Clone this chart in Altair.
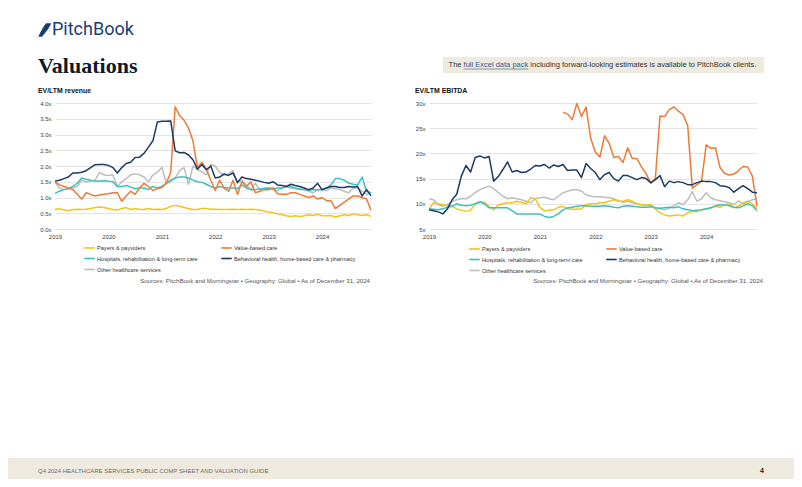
import altair as alt
import pandas as pd

YEARS = [2019, 2020, 2021, 2022, 2023, 2024]
MONTHS = [f"{y}-{m:02d}" for y in YEARS for m in range(1, 13)]

SERIES = [
    "Payers & payviders",
    "Value-based care",
    "Hospitals, rehabilitation & long-term care",
    "Behavioral health, home-based care & pharmacy",
    "Other healthcare services",
]
COLORS = ["#F5C319", "#EE7B35", "#3EC0C1", "#1A3A64", "#BDBDBD"]
# legend is filled column by column: this order gives rows
# (Payers | Value-based), (Hospitals | Behavioral), (Other)
LEGEND_ORDER = [0, 2, 4, 1, 3]
DRAW_ORDER = [4, 0, 2, 1, 3]

# ---- EV/LTM revenue (x) ----
REV_PAYERS = [0.62, 0.65, 0.60, 0.58, 0.62, 0.63, 0.62, 0.63, 0.65, 0.68, 0.70, 0.68,
              0.65, 0.62, 0.60, 0.65, 0.68, 0.62, 0.65, 0.62, 0.62, 0.65, 0.62, 0.63,
              0.62, 0.65, 0.72, 0.75, 0.72, 0.68, 0.65, 0.62, 0.62, 0.65, 0.65, 0.63,
              0.63, 0.62, 0.62, 0.62, 0.63, 0.62, 0.63, 0.62, 0.63, 0.62, 0.60, 0.57,
              0.54, 0.52, 0.48, 0.45, 0.42, 0.40, 0.42, 0.40, 0.42, 0.45, 0.43, 0.47,
              0.42, 0.42, 0.43, 0.38, 0.42, 0.45, 0.43, 0.48, 0.45, 0.43, 0.45, 0.40]
REV_VALUE = [1.50, 1.40, 1.35, 1.30, 1.25, 1.10, 0.95, 1.15, 1.10, 1.05, 1.08, 1.10,
             1.12, 1.15, 1.15, 0.88, 1.05, 1.20, 1.10, 1.30, 1.45, 1.35, 1.22, 1.28,
             1.32, 1.45, 1.80, 3.88, 3.60, 3.45, 3.20, 2.80, 1.95, 2.12, 1.90, 1.55,
             1.22, 1.55, 1.30, 1.20, 1.55, 1.10, 1.50, 1.35, 1.50, 1.15, 1.20, 1.25,
             1.25, 1.30, 1.12, 1.10, 1.10, 1.15, 1.15, 1.10, 1.05, 1.00, 1.05, 0.95,
             1.00, 0.90, 0.90, 0.65, 0.75, 0.85, 0.95, 1.05, 1.05, 1.00, 0.95, 0.60]
REV_HOSP = [1.13, 1.20, 1.25, 1.28, 1.35, 1.45, 1.62, 1.58, 1.55, 1.52, 1.52, 1.53,
            1.52, 1.50, 1.35, 1.35, 1.38, 1.33, 1.28, 1.30, 1.30, 1.25, 1.35, 1.30,
            1.35, 1.45, 1.55, 1.62, 1.65, 1.65, 1.62, 1.55, 1.50, 1.48, 1.42, 1.35,
            1.30, 1.35, 1.32, 1.30, 1.30, 1.28, 1.40, 1.30, 1.25, 1.25, 1.28, 1.28,
            1.30, 1.28, 1.30, 1.30, 1.35, 1.35, 1.30, 1.28, 1.25, 1.22, 1.25, 1.25,
            1.25, 1.30, 1.40, 1.60, 1.60, 1.55, 1.45, 1.42, 1.40, 1.65, 1.20, 1.15]
REV_BEHAV = [1.52, 1.55, 1.60, 1.65, 1.78, 1.78, 1.80, 1.85, 1.95, 2.04, 2.05, 2.05,
             2.02, 1.95, 1.78, 1.95, 2.08, 2.12, 2.27, 2.28, 2.40, 2.60, 2.80, 3.40,
             3.42, 3.42, 3.43, 2.48, 2.42, 2.43, 2.35, 2.20, 1.90, 2.05, 1.88, 2.00,
             1.62, 1.65, 1.75, 1.70, 1.78, 1.48, 1.65, 1.60, 1.58, 1.55, 1.52, 1.48,
             1.45, 1.50, 1.40, 1.38, 1.35, 1.42, 1.38, 1.35, 1.30, 1.25, 1.30, 1.45,
             1.25, 1.30, 1.35, 1.35, 1.32, 1.32, 1.35, 1.33, 1.35, 1.05, 1.25, 1.05]
REV_OTHER = [1.48, 1.30, 1.25, 1.28, 1.30, 1.35, 1.55, 1.50, 1.52, 1.55, 1.80, 1.72,
             1.70, 1.72, 1.35, 1.50, 1.60, 1.72, 1.75, 1.72, 1.65, 1.50, 1.72, 1.80,
             1.95, 1.45, 1.50, 1.62, 1.85, 1.95, 1.42, 2.00, 1.88, 1.82, 1.72, 2.05,
             2.00, 1.80, 1.70, 1.75, 1.85, 1.45, 1.55, 1.40, 1.25, 1.45, 1.25, 1.30,
             1.30, 1.25, 1.22, 1.30, 1.35, 1.30, 1.28, 1.25, 1.25, 1.20, 1.15, 1.25,
             1.25, 1.22, 1.30, 1.28, 1.25, 1.20, 1.15, 1.30, 1.30, 1.20, 1.10, 1.15]

# ---- EV/LTM EBITDA (x) ----
EB_PAYERS = [8.9, 10.2, 10.0, 9.8, 9.6, 9.5, 9.0, 8.7, 8.5, 8.7, 10.0, 10.3,
             10.3, 9.5, 8.8, 9.8, 10.0, 10.2, 10.2, 10.5, 10.3, 10.0, 11.2, 11.0,
             9.3, 8.6, 8.7, 8.8, 9.3, 9.5, 9.0, 8.9, 8.9, 9.0, 9.8, 10.0,
             10.0, 10.2, 10.2, 10.5, 10.8, 10.5, 10.5, 10.8, 10.5, 10.0, 9.8, 9.7,
             9.9, 9.0, 8.2, 7.8, 7.6, 7.7, 7.8, 7.6, 8.2, 8.5, 8.4, 8.8,
             8.9, 9.2, 9.5, 9.3, 9.8, 10.0, 9.2, 9.5, 10.2, 10.5, 10.0, 9.0]
EB_VALUE = [None] * 29 + [
             28.2, 27.8, 26.7, 29.9, 27.3, 29.2, 23.0,
             20.3, 19.3, 23.5, 22.0, 19.2, 19.4, 18.2, 21.1, 19.0, 19.0, 17.3, 16.0,
             14.1, 15.0, 27.4, 27.3, 28.7, 29.2, 28.4, 27.7, 25.5, 13.1, 13.8, 14.5,
             21.7, 21.0, 21.1, 17.2, 16.0, 15.7, 15.9, 16.6, 17.4, 17.3, 15.5, 9.5]
EB_HOSP = [9.0, 8.9, 8.8, 9.0, 9.3, 9.5, 10.0, 9.7, 9.6, 9.7, 10.0, 10.4,
           10.0, 9.2, 9.2, 9.2, 9.2, 9.2, 8.6, 8.0, 8.0, 8.0, 8.0, 8.0,
           8.0, 7.5, 7.3, 7.5, 8.0, 8.8, 9.2, 9.3, 9.5, 9.6, 9.6, 9.5,
           9.5, 9.5, 9.6, 9.5, 9.3, 9.2, 9.5, 9.6, 9.5, 9.4, 9.3, 9.3,
           9.4, 9.2, 9.1, 9.2, 9.3, 9.2, 9.4, 9.0, 8.8, 8.6, 8.7, 8.8,
           9.0, 9.2, 9.6, 9.8, 9.8, 9.6, 9.3, 9.2, 9.6, 10.0, 9.6, 8.6]
EB_BEHAV = [8.8, 8.6, 8.4, 8.0, 9.0, 10.8, 11.9, 15.5, 17.6, 16.3, 19.2, 19.5,
            19.1, 19.4, 14.5, 15.4, 16.8, 18.3, 16.3, 16.6, 16.2, 16.3, 16.9, 17.6,
            17.5, 17.8, 17.1, 17.7, 17.4, 17.8, 16.6, 16.7, 16.7, 15.2, 18.0, 17.0,
            16.2, 14.8, 15.8, 16.2, 15.0, 14.5, 15.6, 15.6, 15.2, 14.8, 15.2, 15.0,
            14.2, 14.8, 15.6, 13.4, 14.5, 14.2, 14.4, 14.2, 13.8, 13.8, 14.2, 14.5,
            14.4, 14.4, 14.2, 13.6, 13.5, 13.2, 12.3, 13.0, 13.6, 13.0, 12.3, 12.2]
EB_OTHER = [11.0, 10.8, 9.8, 9.5, 9.8, 10.5, 10.8, 11.0, 11.0, 11.5, 12.2, 12.8,
            13.2, 13.5, 13.0, 12.2, 11.5, 11.0, 11.2, 11.0, 10.8, 10.5, 10.2, 11.0,
            11.2, 11.3, 11.0, 10.8, 11.5, 12.2, 12.5, 12.8, 12.8, 12.5, 11.8, 11.5,
            11.4, 11.4, 11.3, 11.2, 11.0, 10.6, 10.3, 10.5, 10.2, 10.0, 9.8, 9.7,
            9.6, 9.2, 9.0, 8.8, 9.2, 9.6, 10.2, 9.8, 10.8, 12.4, 10.5, 11.0,
            12.2, 11.2, 10.8, 10.6, 10.4, 10.2, 9.8, 10.6, 10.0, 10.4, 10.8, 11.0]

REV_TICKS = [0, 0.5, 1.0, 1.5, 2.0, 2.5, 3.0, 3.5, 4.0]
EB_TICKS = [5, 10, 15, 20, 25, 30]

SANS = "Liberation Sans, Arial, sans-serif"
SOURCES = "Sources: PitchBook and Morningstar  \u2022  Geography: Global  \u2022  As of December 31, 2024"
ONE = pd.DataFrame({"k": [0]})


def long_df(cols):
    rows = []
    for name, vals in zip(SERIES, cols):
        for mo, v in zip(MONTHS, vals):
            if v is None:
                continue
            yy, mm = mo.split("-")
            rows.append({"t": int(yy) + (int(mm) - 1) / 12, "s": name, "v": v})
    return pd.DataFrame(rows)


def text(s, x, y, size, color="#222222", font=SANS, weight="normal", align="left", baseline="middle"):
    return alt.Chart(ONE).mark_text(
        text=s, font=font, fontSize=size, fontWeight=weight, color=color,
        align=align, baseline=baseline
    ).encode(x=alt.value(x), y=alt.value(y))


def box(x, x2, y, y2, **kw):
    return alt.Chart(ONE).mark_rect(**kw).encode(
        x=alt.value(x), x2=alt.value(x2), y=alt.value(y), y2=alt.value(y2))


def panel(df, ydomain, yticks, label_expr, width, lx, ly, before, after):
    x = alt.X("t:Q",
              scale=alt.Scale(domain=[2019, 2019 + 71 / 12], nice=False, zero=False),
              axis=alt.Axis(values=YEARS, format="d", title=None, grid=False, domain=False,
                            ticks=False, labelFont=SANS, labelFontSize=6,
                            labelColor="#404040", labelPadding=4, labelFlush=False))
    y = alt.Y("v:Q",
              scale=alt.Scale(domain=ydomain, nice=False, zero=False),
              axis=alt.Axis(values=yticks, labelExpr=label_expr, title=None, grid=True,
                            gridColor="#E4E4E4", gridWidth=1, domain=False, ticks=False,
                            labelFont=SANS, labelFontSize=6, labelColor="#404040",
                            labelPadding=4))
    color = alt.Color("s:N",
                      scale=alt.Scale(domain=[SERIES[i] for i in LEGEND_ORDER],
                                      range=[COLORS[i] for i in LEGEND_ORDER]),
                      legend=alt.Legend(orient="none", legendX=lx, legendY=ly, columns=2,
                                        title=None, symbolType="stroke", symbolSize=110,
                                        symbolStrokeWidth=1.6, labelFont=SANS,
                                        labelFontSize=5.6, labelColor="#333333",
                                        labelOffset=1, columnPadding=20, rowPadding=-1,
                                        padding=0, labelLimit=0))
    lines = [
        alt.Chart(df).transform_filter(alt.datum.s == SERIES[i])
        .mark_line(strokeWidth=1.5, strokeJoin="round")
        .encode(x=x, y=y, color=color)
        for i in DRAW_ORDER
    ]
    return alt.layer(*(before + lines + after)).properties(width=width, height=126)


feather = ("M0.15,-1 L0.95,-1 C0.65,-0.35 0.15,0.35 -0.45,1 L-1,1 "
           "C-0.65,0.25 -0.3,-0.45 0.15,-1 Z")

left_before = [
    box(-47, 739, -95, 376, fillOpacity=0, strokeOpacity=0),
    box(-47, 739, 355, 376, color="#EEEADF"),
]
left_after = [
    alt.Chart(ONE).mark_point(shape=feather, filled=True, color="#1C3D70", size=180,
                              opacity=1).encode(x=alt.value(-10), y=alt.value(-73)),
    text("PitchBook", -3, -73, 18, color="#1C3D70", font="Roboto, Liberation Sans, sans-serif"),
    text("Valuations", -17, -30, 22, color="#111827", font="Liberation Serif, DejaVu Serif, serif",
         weight="bold", baseline="alphabetic"),
    text("EV/LTM revenue", -17, -12, 6.9, color="#111111", weight="bold"),
    text(SOURCES, 315, 178, 6.1, color="#555555", align="right"),
    text("Q4 2024 HEALTHCARE SERVICES PUBLIC COMP SHEET AND VALUATION GUIDE", -17, 368, 6,
         color="#6B6B6B"),
    text("4", 707, 368, 7, color="#222222", weight="bold", align="center"),
]

right_before = [
    box(14, 335, -46, -30, color="#EEEADF"),
]
right_after = [
    text("The", 19.6, -38, 7.5, color="#333333"),
    text("full Excel data pack", 34.6, -38, 7.5, color="#2D5A8E"),
    alt.Chart(ONE).mark_rule(color="#2D5A8E", strokeWidth=0.6).encode(
        x=alt.value(34.6), x2=alt.value(99.2), y=alt.value(-34)),
    text("including forward-looking estimates is available to PitchBook clients.", 101.3, -38,
         7.5, color="#333333"),
    text("EV/LTM EBITDA", -14, -12, 6.9, color="#111111", weight="bold"),
    text(SOURCES, 334, 178, 6.1, color="#555555", align="right"),
]

left = panel(long_df([REV_PAYERS, REV_VALUE, REV_HOSP, REV_BEHAV, REV_OTHER]),
             [0, 4], REV_TICKS, "format(datum.value, '.1f') + 'x'", 316, 28, 138,
             left_before, left_after)
right = panel(long_df([EB_PAYERS, EB_VALUE, EB_HOSP, EB_BEHAV, EB_OTHER]),
              [5, 30], EB_TICKS, "datum.value + 'x'", 328, 39, 139,
              right_before, right_after)

chart = (
    alt.hconcat(left, right, spacing=58, bounds="flush")
    .resolve_scale(color="independent")
    .configure_view(strokeWidth=0)
    .properties(padding=0, background="white")
)

chart.save("out.html", embed_options={"renderer": "svg", "actions": False})
